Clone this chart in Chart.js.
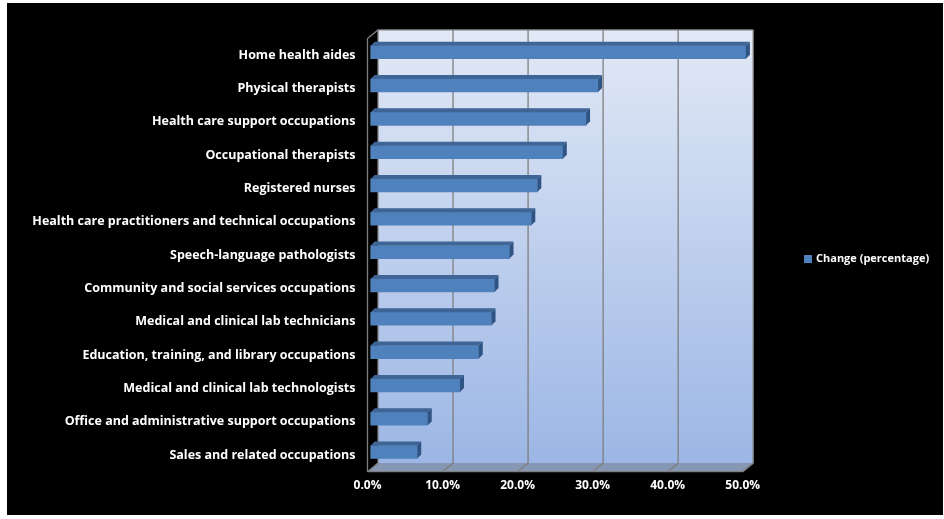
<!DOCTYPE html>
<html>
<head>
<meta charset="utf-8">
<script src="https://cdn.jsdelivr.net/npm/chart.js@4.4.1/dist/chart.umd.min.js"></script>
<style>
  html, body { margin: 0; padding: 0; background: #fff; }
  canvas { display: block; }
</style>
</head>
<body>
<canvas id="grafico" width="944" height="519"></canvas>
<script>
const ocupaciones = [
  'Home health aides',
  'Physical therapists',
  'Health care support occupations',
  'Occupational therapists',
  'Registered nurses',
  'Health care practitioners and technical occupations',
  'Speech-language pathologists',
  'Community and social services occupations',
  'Medical and clinical lab technicians',
  'Education, training, and library occupations',
  'Medical and clinical lab technologists',
  'Office and administrative support occupations',
  'Sales and related occupations'
];
const cambio = [50.0, 30.3, 28.7, 25.6, 22.2, 21.4, 18.5, 16.5, 16.1, 14.4, 11.9, 7.6, 6.2];
const nombreSerie = 'Change (percentage)';
const ejeMin = 0;
const ejeMax = 50;
const ejePaso = 10;

// profundidad de la "caja" 3D y de las barras
const PROF = { dx: 10.5, dy: -8.6 };
const BARRA = { dx: 3.2, dy: -3, d: 4 };
const fuente = '"Open Sans", Lato, sans-serif';

const caja3d = {
  id: 'caja3d',
  beforeDraw(chart) {
    const { ctx, width, height } = chart;
    ctx.save();
    ctx.fillStyle = '#fff';
    ctx.fillRect(0, 0, width, height);
    ctx.fillStyle = '#000';
    ctx.fillRect(7, 3, 936, 512);
    ctx.restore();
  },
  beforeDatasetsDraw(chart) {
    const { ctx, chartArea: a, scales: { x } } = chart;
    const { dx, dy } = PROF;
    ctx.save();

    // pared del fondo con degradado
    const g = ctx.createLinearGradient(0, a.top + dy, 0, a.bottom + dy);
    g.addColorStop(0, '#E2E9F6');
    g.addColorStop(1, '#9CB6E5');
    ctx.fillStyle = g;
    ctx.fillRect(a.left + dx, a.top + dy, a.right - a.left, a.bottom - a.top);

    // piso
    ctx.beginPath();
    ctx.moveTo(a.left, a.bottom);
    ctx.lineTo(a.left + dx, a.bottom + dy);
    ctx.lineTo(a.right + dx, a.bottom + dy);
    ctx.lineTo(a.right, a.bottom);
    ctx.closePath();
    ctx.fillStyle = '#8597B3';
    ctx.fill();

    // pared izquierda
    ctx.beginPath();
    ctx.moveTo(a.left, a.top);
    ctx.lineTo(a.left + dx, a.top + dy);
    ctx.lineTo(a.left + dx, a.bottom + dy);
    ctx.lineTo(a.left, a.bottom);
    ctx.closePath();
    ctx.fillStyle = '#000';
    ctx.fill();

    ctx.strokeStyle = '#7F7F7F';
    ctx.lineWidth = 1.3;

    // lineas de division en la pared y el piso
    x.ticks.forEach(t => {
      const px = x.getPixelForValue(t.value);
      ctx.beginPath();
      ctx.moveTo(px + dx, a.top + dy);
      ctx.lineTo(px + dx, a.bottom + dy);
      ctx.lineTo(px, a.bottom);
      ctx.stroke();
    });

    // bordes
    ctx.beginPath();
    ctx.moveTo(a.left, a.bottom);
    ctx.lineTo(a.left, a.top);
    ctx.lineTo(a.left + dx, a.top + dy);
    ctx.lineTo(a.right + dx, a.top + dy);
    ctx.moveTo(a.left, a.bottom);
    ctx.lineTo(a.right, a.bottom);
    ctx.lineTo(a.right + dx, a.bottom + dy);
    ctx.stroke();

    ctx.restore();

    // las barras van un poco adentro de la caja
    ctx.save();
    ctx.translate(BARRA.dx, BARRA.dy);
  },
  afterDatasetsDraw(chart) {
    const { ctx } = chart;
    const d = BARRA.d;
    chart.getDatasetMeta(0).data.forEach(bar => {
      const { x, y, base, height } = bar.getProps(['x', 'y', 'base', 'height'], true);
      const arriba = y - height / 2;
      const abajo = y + height / 2;
      // cara de arriba
      ctx.beginPath();
      ctx.moveTo(base, arriba);
      ctx.lineTo(base + d, arriba - d);
      ctx.lineTo(x + d, arriba - d);
      ctx.lineTo(x, arriba);
      ctx.closePath();
      ctx.fillStyle = '#3E6596';
      ctx.fill();
      // cara del extremo
      ctx.beginPath();
      ctx.moveTo(x, arriba);
      ctx.lineTo(x + d, arriba - d);
      ctx.lineTo(x + d, abajo - d);
      ctx.lineTo(x, abajo);
      ctx.closePath();
      ctx.fillStyle = '#2F5382';
      ctx.fill();
    });
    ctx.restore();
  },
  afterDraw(chart) {
    // leyenda a la derecha
    const { ctx } = chart;
    const ds = chart.data.datasets[0];
    ctx.save();
    ctx.fillStyle = ds.backgroundColor;
    ctx.fillRect(804, 255, 8, 8);
    ctx.fillStyle = '#fff';
    ctx.font = 'bold 11px ' + fuente;
    ctx.textBaseline = 'middle';
    ctx.textAlign = 'left';
    ctx.fillText(ds.label, 816, 259);
    ctx.restore();
  }
};

new Chart(document.getElementById('grafico'), {
  type: 'bar',
  data: {
    labels: ocupaciones,
    datasets: [{
      label: nombreSerie,
      data: cambio,
      backgroundColor: '#4F81BD',
      borderWidth: 0,
      barThickness: 13,
      clip: false
    }]
  },
  plugins: [caja3d],
  options: {
    indexAxis: 'y',
    responsive: false,
    animation: false,
    events: [],
    layout: { padding: { left: 7, top: 38.5, right: 201.3, bottom: 0 } },
    plugins: {
      legend: { display: false },
      tooltip: { enabled: false }
    },
    scales: {
      x: {
        min: ejeMin,
        max: ejeMax,
        ticks: {
          stepSize: ejePaso,
          color: '#fff',
          padding: 7,
          font: { family: fuente, weight: 'bold', size: 12 },
          callback: v => v.toFixed(1) + '%'
        },
        grid: { display: false, drawTicks: false },
        border: { display: false },
        afterFit: s => { s.height = 519 - 471.7; }
      },
      y: {
        ticks: {
          color: '#fff',
          padding: 12,
          font: { family: fuente, weight: 'bold', size: 12.5 }
        },
        grid: { display: false, drawTicks: false },
        border: { display: false },
        afterFit: s => { s.width = 367.5 - 7; }
      }
    }
  }
});
</script>
</body>
</html>
